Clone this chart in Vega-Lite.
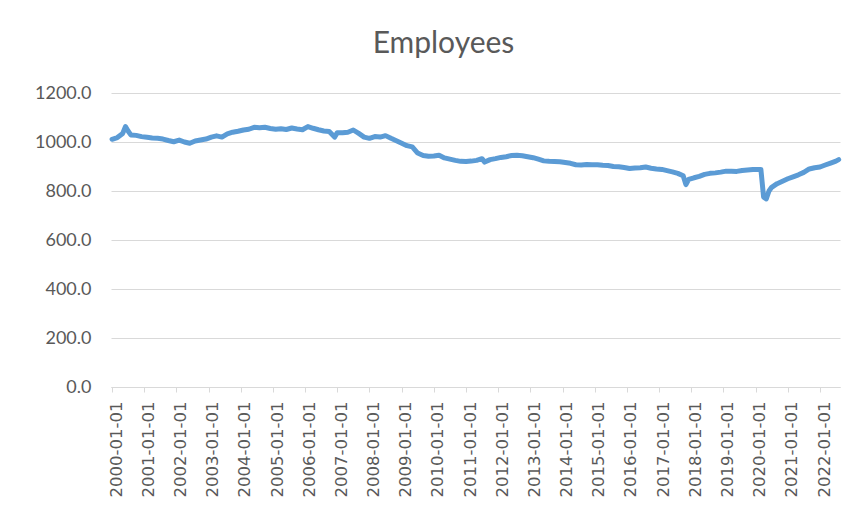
{
  "$schema": "https://vega.github.io/schema/vega-lite/v6.json",
  "width": 729,
  "height": 294,
  "autosize": {"type": "none"},
  "padding": {"left": 111, "top": 93, "right": 4, "bottom": 125},
  "background": "white",
  "title": {
    "text": "Employees",
    "font": "Lato",
    "fontSize": 30,
    "fontWeight": "normal",
    "color": "#595959",
    "anchor": "middle",
    "frame": "group",
    "baseline": "middle",
    "dx": -32,
    "offset": 10
  },
  "config": {"view": {"stroke": null}},
  "data": {
    "values": [
      {"date": "2000-01-01", "employees": 1011},
      {"date": "2000-03-01", "employees": 1018},
      {"date": "2000-05-01", "employees": 1035},
      {"date": "2000-06-01", "employees": 1063},
      {"date": "2000-07-01", "employees": 1045},
      {"date": "2000-08-01", "employees": 1029},
      {"date": "2000-10-01", "employees": 1027},
      {"date": "2000-12-01", "employees": 1022},
      {"date": "2001-02-01", "employees": 1019},
      {"date": "2001-04-01", "employees": 1016},
      {"date": "2001-06-01", "employees": 1015},
      {"date": "2001-08-01", "employees": 1012},
      {"date": "2001-10-01", "employees": 1006},
      {"date": "2001-12-01", "employees": 1001},
      {"date": "2002-02-01", "employees": 1008},
      {"date": "2002-04-01", "employees": 1000},
      {"date": "2002-06-01", "employees": 995},
      {"date": "2002-08-01", "employees": 1004},
      {"date": "2002-10-01", "employees": 1008},
      {"date": "2002-12-01", "employees": 1012},
      {"date": "2003-02-01", "employees": 1020},
      {"date": "2003-04-01", "employees": 1025},
      {"date": "2003-06-01", "employees": 1020},
      {"date": "2003-08-01", "employees": 1033},
      {"date": "2003-10-01", "employees": 1040},
      {"date": "2003-12-01", "employees": 1044},
      {"date": "2004-02-01", "employees": 1049},
      {"date": "2004-04-01", "employees": 1052},
      {"date": "2004-06-01", "employees": 1060},
      {"date": "2004-08-01", "employees": 1058},
      {"date": "2004-10-01", "employees": 1060},
      {"date": "2004-12-01", "employees": 1055},
      {"date": "2005-02-01", "employees": 1052},
      {"date": "2005-04-01", "employees": 1054},
      {"date": "2005-06-01", "employees": 1051},
      {"date": "2005-08-01", "employees": 1057},
      {"date": "2005-10-01", "employees": 1053},
      {"date": "2005-12-01", "employees": 1050},
      {"date": "2006-02-01", "employees": 1063},
      {"date": "2006-04-01", "employees": 1056},
      {"date": "2006-06-01", "employees": 1050},
      {"date": "2006-08-01", "employees": 1045},
      {"date": "2006-10-01", "employees": 1043},
      {"date": "2006-12-01", "employees": 1020},
      {"date": "2007-01-01", "employees": 1038},
      {"date": "2007-03-01", "employees": 1038},
      {"date": "2007-05-01", "employees": 1040},
      {"date": "2007-07-01", "employees": 1049},
      {"date": "2007-09-01", "employees": 1035},
      {"date": "2007-11-01", "employees": 1020},
      {"date": "2008-01-01", "employees": 1015},
      {"date": "2008-03-01", "employees": 1022},
      {"date": "2008-05-01", "employees": 1020},
      {"date": "2008-07-01", "employees": 1026},
      {"date": "2008-09-01", "employees": 1015},
      {"date": "2008-11-01", "employees": 1005},
      {"date": "2009-01-01", "employees": 995},
      {"date": "2009-03-01", "employees": 985},
      {"date": "2009-05-01", "employees": 980},
      {"date": "2009-07-01", "employees": 955},
      {"date": "2009-09-01", "employees": 945},
      {"date": "2009-11-01", "employees": 942},
      {"date": "2010-01-01", "employees": 943},
      {"date": "2010-03-01", "employees": 946},
      {"date": "2010-05-01", "employees": 935},
      {"date": "2010-07-01", "employees": 930},
      {"date": "2010-09-01", "employees": 925},
      {"date": "2010-11-01", "employees": 921},
      {"date": "2011-01-01", "employees": 920},
      {"date": "2011-03-01", "employees": 922},
      {"date": "2011-05-01", "employees": 925},
      {"date": "2011-07-01", "employees": 932},
      {"date": "2011-08-01", "employees": 918},
      {"date": "2011-10-01", "employees": 928},
      {"date": "2011-12-01", "employees": 932},
      {"date": "2012-02-01", "employees": 937},
      {"date": "2012-04-01", "employees": 940},
      {"date": "2012-06-01", "employees": 945},
      {"date": "2012-08-01", "employees": 946},
      {"date": "2012-10-01", "employees": 944},
      {"date": "2012-12-01", "employees": 940},
      {"date": "2013-02-01", "employees": 936},
      {"date": "2013-04-01", "employees": 930},
      {"date": "2013-06-01", "employees": 923},
      {"date": "2013-08-01", "employees": 921},
      {"date": "2013-10-01", "employees": 920},
      {"date": "2013-12-01", "employees": 919},
      {"date": "2014-02-01", "employees": 916},
      {"date": "2014-04-01", "employees": 913},
      {"date": "2014-06-01", "employees": 907},
      {"date": "2014-08-01", "employees": 906},
      {"date": "2014-10-01", "employees": 908},
      {"date": "2014-12-01", "employees": 907},
      {"date": "2015-02-01", "employees": 907},
      {"date": "2015-04-01", "employees": 905},
      {"date": "2015-06-01", "employees": 904},
      {"date": "2015-08-01", "employees": 900},
      {"date": "2015-10-01", "employees": 899},
      {"date": "2015-12-01", "employees": 896},
      {"date": "2016-02-01", "employees": 892},
      {"date": "2016-04-01", "employees": 894},
      {"date": "2016-06-01", "employees": 895},
      {"date": "2016-08-01", "employees": 898},
      {"date": "2016-10-01", "employees": 893},
      {"date": "2016-12-01", "employees": 890},
      {"date": "2017-02-01", "employees": 888},
      {"date": "2017-04-01", "employees": 883},
      {"date": "2017-06-01", "employees": 878},
      {"date": "2017-08-01", "employees": 872},
      {"date": "2017-10-01", "employees": 862},
      {"date": "2017-11-01", "employees": 826},
      {"date": "2017-12-01", "employees": 847},
      {"date": "2018-02-01", "employees": 854},
      {"date": "2018-04-01", "employees": 860},
      {"date": "2018-06-01", "employees": 868},
      {"date": "2018-08-01", "employees": 872},
      {"date": "2018-10-01", "employees": 874},
      {"date": "2018-12-01", "employees": 877},
      {"date": "2019-02-01", "employees": 881},
      {"date": "2019-04-01", "employees": 881},
      {"date": "2019-06-01", "employees": 880},
      {"date": "2019-08-01", "employees": 884},
      {"date": "2019-10-01", "employees": 886},
      {"date": "2019-12-01", "employees": 888},
      {"date": "2020-03-01", "employees": 888},
      {"date": "2020-04-01", "employees": 775},
      {"date": "2020-05-01", "employees": 768},
      {"date": "2020-06-01", "employees": 800},
      {"date": "2020-07-01", "employees": 815},
      {"date": "2020-09-01", "employees": 830},
      {"date": "2020-11-01", "employees": 840},
      {"date": "2021-01-01", "employees": 850},
      {"date": "2021-03-01", "employees": 858},
      {"date": "2021-05-01", "employees": 866},
      {"date": "2021-07-01", "employees": 876},
      {"date": "2021-09-01", "employees": 890},
      {"date": "2021-11-01", "employees": 895},
      {"date": "2022-01-01", "employees": 898},
      {"date": "2022-03-01", "employees": 906},
      {"date": "2022-05-01", "employees": 914},
      {"date": "2022-07-01", "employees": 922},
      {"date": "2022-08-01", "employees": 928}
    ]
  },
  "mark": {
    "type": "line",
    "color": "#5B9BD5",
    "strokeWidth": 5,
    "strokeCap": "round",
    "strokeJoin": "round",
    "clip": false
  },
  "encoding": {
    "x": {
      "field": "date",
      "type": "temporal",
      "scale": {"type": "utc", "domain": ["1999-12-20", "2022-08-16"], "nice": false},
      "axis": {
        "title": null,
        "format": "%Y-%m-%d",
        "tickCount": {"interval": "year", "step": 1},
        "labelAngle": -90,
        "labelAlign": "right",
        "labelBaseline": "middle",
        "labelFont": "DejaVu Sans",
        "labelFontSize": 16.5,
        "labelColor": "#595959",
        "labelPadding": 9,
        "labelOffset": 4,
        "labelOverlap": false,
        "labelFlush": false,
        "grid": false,
        "domain": true,
        "domainColor": "#D9D9D9",
        "domainWidth": 1,
        "ticks": true,
        "tickColor": "#D9D9D9",
        "tickSize": 5
      }
    },
    "y": {
      "field": "employees",
      "type": "quantitative",
      "scale": {"domain": [0, 1200], "nice": false, "zero": true},
      "axis": {
        "title": null,
        "values": [0, 200, 400, 600, 800, 1000, 1200],
        "format": ".1f",
        "labelFont": "Lato",
        "labelFontSize": 18,
        "labelColor": "#595959",
        "labelPadding": 20,
        "domain": false,
        "ticks": false,
        "grid": true,
        "gridColor": "#D9D9D9",
        "gridWidth": 1
      }
    }
  }
}
